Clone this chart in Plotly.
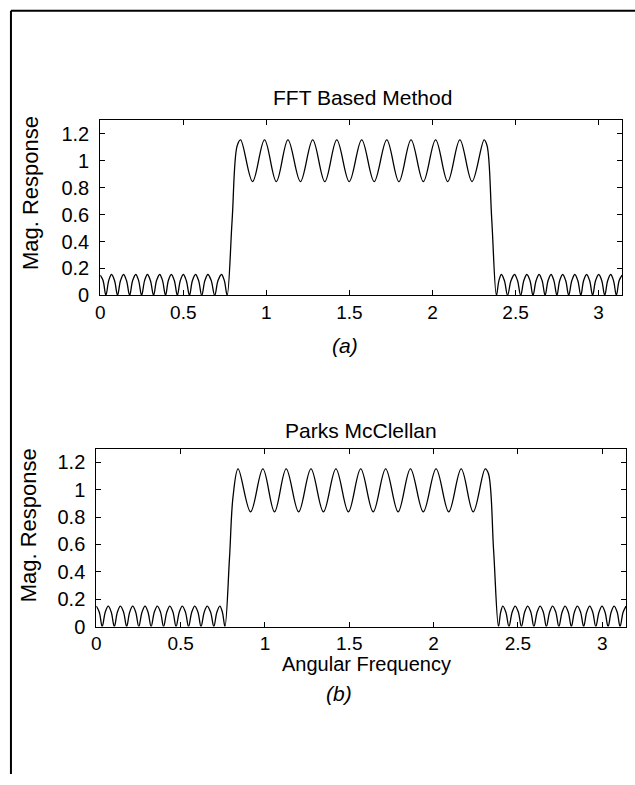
import math
import plotly.graph_objects as go

# ---------------- data ----------------
X_TICKS = [0, 0.5, 1, 1.5, 2, 2.5, 3]
X_TICK_TEXT = ["0", "0.5", "1", "1.5", "2", "2.5", "3"]
Y_TICKS = [0, 0.2, 0.4, 0.6, 0.8, 1.0, 1.2]
Y_TICK_TEXT = ["0", "0.2", "0.4", "0.6", "0.8", "1", "1.2"]

# (a) FFT based method
FFT_STOP1_W = [0.000, 0.017, 0.034, 0.051, 0.068, 0.086, 0.104, 0.122, 0.140, 0.158,
               0.177, 0.195, 0.214, 0.231, 0.249, 0.267, 0.284, 0.302, 0.321, 0.339,
               0.358, 0.375, 0.393, 0.410, 0.428, 0.446, 0.464, 0.482, 0.500, 0.518,
               0.537, 0.555, 0.574, 0.592, 0.611, 0.630, 0.648, 0.668, 0.689, 0.709,
               0.730, 0.747, 0.764]
FFT_STOP1_MAG = [0.150, 0.110, 0.000, 0.110, 0.155, 0.110, 0.000, 0.110, 0.155, 0.110,
                 0.000, 0.110, 0.155, 0.110, 0.000, 0.110, 0.155, 0.110, 0.000, 0.110,
                 0.155, 0.110, 0.000, 0.110, 0.155, 0.110, 0.000, 0.110, 0.155, 0.110,
                 0.000, 0.110, 0.155, 0.110, 0.000, 0.110, 0.155, 0.110, 0.000, 0.110,
                 0.155, 0.110, 0.000]
FFT_PASS_W = [0.794, 0.824, 0.845, 0.917, 0.989, 1.060, 1.130, 1.205, 1.279, 1.352,
              1.424, 1.499, 1.574, 1.649, 1.725, 1.798, 1.871, 1.945, 2.019, 2.092,
              2.165, 2.238, 2.311, 2.329, 2.357, 2.385]
FFT_PASS_MAG = [0.560, 1.110, 1.155, 0.845, 1.155, 0.845, 1.155, 0.845, 1.155, 0.845,
                1.155, 0.845, 1.155, 0.845, 1.155, 0.845, 1.155, 0.845, 1.155, 0.845,
                1.155, 0.845, 1.155, 1.110, 0.560, 0.000]
FFT_STOP2_W = [2.400, 2.415, 2.433, 2.452, 2.473, 2.494, 2.512, 2.531, 2.550, 2.568,
               2.587, 2.605, 2.624, 2.642, 2.660, 2.678, 2.696, 2.714, 2.731, 2.749,
               2.766, 2.784, 2.802, 2.820, 2.839, 2.857, 2.875, 2.893, 2.910, 2.928,
               2.946, 2.964, 2.982, 3.001, 3.019, 3.037, 3.055, 3.073, 3.090, 3.107,
               3.124, 3.1416]
FFT_STOP2_MAG = [0.110, 0.155, 0.110, 0.000, 0.110, 0.155, 0.110, 0.000, 0.110, 0.155,
                 0.110, 0.000, 0.110, 0.155, 0.110, 0.000, 0.110, 0.155, 0.110, 0.000,
                 0.110, 0.155, 0.110, 0.000, 0.110, 0.155, 0.110, 0.000, 0.110, 0.155,
                 0.110, 0.000, 0.110, 0.155, 0.110, 0.000, 0.110, 0.155, 0.110, 0.000,
                 0.110, 0.150]

# (b) Parks McClellan
PM_STOP1_W = [0.000, 0.018, 0.035, 0.053, 0.071, 0.089, 0.107, 0.125, 0.143, 0.162,
              0.180, 0.198, 0.216, 0.234, 0.252, 0.271, 0.289, 0.307, 0.325, 0.344,
              0.362, 0.381, 0.399, 0.418, 0.436, 0.455, 0.473, 0.492, 0.510, 0.529,
              0.547, 0.566, 0.584, 0.603, 0.621, 0.640, 0.658, 0.678, 0.697, 0.715,
              0.733, 0.748, 0.763]
PM_STOP1_MAG = [0.150, 0.105, 0.000, 0.105, 0.150, 0.105, 0.000, 0.105, 0.150, 0.105,
                0.000, 0.105, 0.150, 0.105, 0.000, 0.105, 0.150, 0.105, 0.000, 0.105,
                0.150, 0.105, 0.000, 0.105, 0.150, 0.105, 0.000, 0.105, 0.150, 0.105,
                0.000, 0.105, 0.150, 0.105, 0.000, 0.105, 0.150, 0.105, 0.000, 0.105,
                0.150, 0.105, 0.000]
PM_PASS_W = [0.790, 0.811, 0.841, 0.915, 0.988, 1.057, 1.126, 1.200, 1.273, 1.347,
             1.421, 1.495, 1.568, 1.642, 1.716, 1.790, 1.863, 1.939, 2.015, 2.090,
             2.164, 2.235, 2.306, 2.326, 2.356, 2.385]
PM_PASS_MAG = [0.500, 0.950, 1.152, 0.838, 1.152, 0.838, 1.152, 0.838, 1.152, 0.838,
               1.152, 0.838, 1.152, 0.838, 1.152, 0.838, 1.152, 0.838, 1.152, 0.838,
               1.152, 0.838, 1.152, 1.115, 0.560, 0.000]
PM_STOP2_W = [2.398, 2.411, 2.429, 2.447, 2.466, 2.484, 2.503, 2.521, 2.540, 2.558,
              2.577, 2.595, 2.614, 2.632, 2.651, 2.669, 2.688, 2.706, 2.725, 2.743,
              2.762, 2.780, 2.799, 2.817, 2.835, 2.853, 2.872, 2.890, 2.908, 2.926,
              2.944, 2.962, 2.981, 2.999, 3.017, 3.035, 3.053, 3.071, 3.089, 3.106,
              3.124, 3.1416]
PM_STOP2_MAG = [0.105, 0.150, 0.105, 0.000, 0.105, 0.150, 0.105, 0.000, 0.105, 0.150,
                0.105, 0.000, 0.105, 0.150, 0.105, 0.000, 0.105, 0.150, 0.105, 0.000,
                0.105, 0.150, 0.105, 0.000, 0.105, 0.150, 0.105, 0.000, 0.105, 0.150,
                0.105, 0.000, 0.105, 0.150, 0.105, 0.000, 0.105, 0.150, 0.105, 0.000,
                0.105, 0.150]

# ---------------- figure ----------------
W, H = 635, 785
FONT = "Liberation Sans, Arial, Helvetica, sans-serif"


def px(x):
    return x / W


def py(y):
    return 1 - y / H


fig = go.Figure()
fig.add_trace(go.Scatter(
    x=FFT_STOP1_W + FFT_PASS_W + FFT_STOP2_W,
    y=FFT_STOP1_MAG + FFT_PASS_MAG + FFT_STOP2_MAG,
    mode="lines", line=dict(color="black", width=1.3, shape="spline", smoothing=1),
    xaxis="x", yaxis="y", showlegend=False, hoverinfo="skip"))
fig.add_trace(go.Scatter(
    x=PM_STOP1_W + PM_PASS_W + PM_STOP2_W,
    y=PM_STOP1_MAG + PM_PASS_MAG + PM_STOP2_MAG,
    mode="lines", line=dict(color="black", width=1.3, shape="spline", smoothing=1),
    xaxis="x2", yaxis="y2", showlegend=False, hoverinfo="skip"))

xcommon = dict(range=[0, math.pi], tickmode="array", tickvals=X_TICKS, ticktext=X_TICK_TEXT,
               ticks="inside", ticklen=5, tickwidth=1, tickcolor="black",
               showline=True, linecolor="black", linewidth=1, mirror="ticks",
               showgrid=False, zeroline=False,
               tickfont=dict(family=FONT, size=19, color="black"), ticklabelstandoff=0)
ycommon = dict(range=[0, 1.3], tickmode="array", tickvals=Y_TICKS, ticktext=Y_TICK_TEXT,
               ticks="inside", ticklen=5, tickwidth=1, tickcolor="black",
               showline=True, linecolor="black", linewidth=1, mirror="ticks",
               showgrid=False, zeroline=False,
               tickfont=dict(family=FONT, size=20, color="black"), ticklabelstandoff=6)

fig.update_layout(
    width=W, height=H, autosize=False,
    margin=dict(l=0, r=0, t=0, b=0, pad=0),
    paper_bgcolor="white", plot_bgcolor="white",
    xaxis=dict(domain=[px(96), px(622)], anchor="y", **xcommon),
    yaxis=dict(domain=[py(299.6), py(122)], anchor="x", **ycommon),
    xaxis2=dict(domain=[px(92), px(626)], anchor="y2", **xcommon),
    yaxis2=dict(domain=[py(635.5), py(455)], anchor="x2", **ycommon),
)


def ann(text, x, y, size=21, angle=0, italic=False):
    if italic:
        text = "<i>" + text + "</i>"
    fig.add_annotation(text=text, x=px(x), y=py(y), xref="paper", yref="paper",
                       xanchor="center", yanchor="middle", showarrow=False,
                       textangle=angle, font=dict(family=FONT, size=size, color="black"))


ann("FFT Based Method", 360, 99)
ann("Parks McClellan", 359, 437)
ann("Mag. Response", 25, 196, size=22, angle=-90)
ann("Mag. Response", 24, 533, size=22, angle=-90)
ann("(a)", 343, 350, italic=True)
ann("Angular Frequency", 364, 673, size=20)
ann("(b)", 337, 703, italic=True)

# page frame (top and left border of the scanned page)
fig.add_shape(type="line", xref="paper", yref="paper", x0=px(6), y0=py(11), x1=px(635), y1=py(11),
              line=dict(color="black", width=2))
fig.add_shape(type="line", xref="paper", yref="paper", x0=px(6), y0=py(11), x1=px(6), y1=py(785),
              line=dict(color="black", width=2))

fig.write_html(
    "out.html",
    config={"displayModeBar": False, "staticPlot": True},
    post_script=("document.documentElement.style.margin='0';"
                 "document.documentElement.style.overflow='hidden';"
                 "document.body.style.margin='0';"
                 "document.body.style.padding='0';"
                 "document.body.style.overflow='hidden';"),
)
